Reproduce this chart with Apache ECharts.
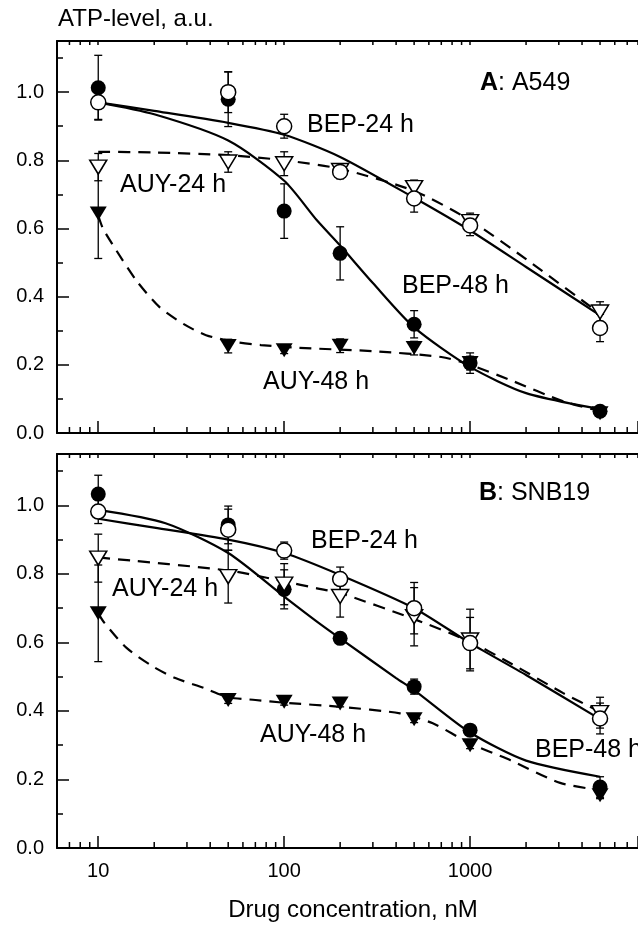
<!DOCTYPE html>
<html>
<head>
<meta charset="utf-8">
<title>ATP-level vs drug concentration</title>
<script src="https://cdn.jsdelivr.net/npm/echarts@6.0.0/dist/echarts.min.js"></script>
<style>
  html, body { margin: 0; padding: 0; background: #fff; }
  #chart { width: 638px; height: 926px; }
</style>
</head>
<body>
<div id="chart"></div>
<script>
// drug concentrations of the measured points, nM
const conc = [10, 50, 100, 200, 500, 1000, 5000];
const xTickLabels = [10, 100, 1000];
const xMinorTicks = [7, 8, 9, 20, 30, 40, 50, 60, 70, 80, 90, 200, 300, 400, 500, 600, 700, 800, 900, 2000, 3000, 4000, 5000, 6000, 7000];
const yTickLabels = [0, 0.2, 0.4, 0.6, 0.8, 1.0];

// panel A: A549
const A_bep24 = [0.97, 1.0, 0.9, 0.766, 0.688, 0.609, 0.308];
const A_bep24_err = [0.05, 0.06, 0.035, 0.02, 0.04, 0.03, 0.04];
const A_bep48 = [1.013, 0.979, 0.651, 0.527, 0.319, 0.205, 0.064];
const A_bep48_err = [0.095, 0.08, 0.08, 0.078, 0.04, 0.03, 0.01];
const A_auy24 = [0.78, 0.795, 0.79, 0.77, 0.72, 0.62, 0.355];
const A_auy24_err = [0.04, 0.03, 0.035, 0.02, 0.022, 0.025, 0.03];
const A_auy48 = [0.644, 0.255, 0.243, 0.256, 0.249, 0.205, 0.058];
const A_auy48_err = [0.132, 0.02, 0.01, 0.02, 0.02, 0.02, 0.01];

// fitted curves, panel A
const A_bep24_fitX = [10, 20, 50, 100, 200, 500, 1000, 2000, 5000];
const A_bep24_fitY = [0.97, 0.945, 0.91, 0.875, 0.81, 0.69, 0.594, 0.487, 0.345];
const A_bep48_fitX = [10, 20, 50, 100, 150, 200, 300, 500, 1000, 2000, 5000];
const A_bep48_fitY = [0.97, 0.935, 0.858, 0.74, 0.624, 0.55, 0.44, 0.31, 0.194, 0.117, 0.07];
const A_auy24_fitX = [10, 20, 50, 100, 200, 500, 1000, 2000, 5000];
const A_auy24_fitY = [0.825, 0.823, 0.815, 0.8, 0.775, 0.71, 0.624, 0.51, 0.35];
const A_auy48_fitX = [10, 10.6, 12.5, 16, 21.3, 28.7, 38, 55, 75, 120, 300, 700, 1000, 1650, 3200, 5000];
const A_auy48_fitY = [0.638, 0.6, 0.536, 0.448, 0.37, 0.32, 0.287, 0.267, 0.258, 0.25, 0.24, 0.223, 0.2, 0.155, 0.092, 0.065];

// panel B: SNB19
const B_bep24 = [0.982, 0.929, 0.868, 0.785, 0.7, 0.598, 0.378];
const B_bep24_err = [0.035, 0.06, 0.025, 0.035, 0.075, 0.075, 0.045];
const B_bep48 = [1.033, 0.943, 0.755, 0.612, 0.471, 0.344, 0.178];
const B_bep48_err = [0.055, 0.055, 0.057, 0.01, 0.022, 0.01, 0.03];
const B_auy24 = [0.846, 0.792, 0.77, 0.734, 0.675, 0.607, 0.395];
const B_auy24_err = [0.07, 0.077, 0.06, 0.06, 0.085, 0.09, 0.045];
const B_auy48 = [0.685, 0.432, 0.427, 0.422, 0.376, 0.3, 0.154];
const B_auy48_err = [0.141, 0.01, 0.01, 0.01, 0.01, 0.01, 0.01];

// fitted curves, panel B
const B_bep24_fitX = [10, 20, 50, 100, 200, 500, 1000, 2000, 5000];
const B_bep24_fitY = [0.961, 0.935, 0.9, 0.861, 0.797, 0.7, 0.598, 0.505, 0.376];
const B_bep48_fitX = [10, 23, 50, 100, 150, 200, 400, 500, 1000, 2000, 5000];
const B_bep48_fitY = [0.987, 0.948, 0.861, 0.734, 0.661, 0.612, 0.496, 0.461, 0.337, 0.255, 0.208];
const B_auy24_fitX = [10, 50, 100, 150, 200, 500, 1000, 1640, 3170, 5000];
const B_auy24_fitY = [0.848, 0.81, 0.778, 0.758, 0.744, 0.668, 0.602, 0.54, 0.452, 0.398];
const B_auy48_fitX = [10, 10.8, 14.2, 19.8, 26, 37, 50, 70, 100, 200, 420, 630, 1000, 1650, 3050, 5000];
const B_auy48_fitY = [0.685, 0.657, 0.584, 0.529, 0.496, 0.467, 0.44, 0.432, 0.424, 0.412, 0.393, 0.364, 0.305, 0.256, 0.19, 0.169];

const X_MIN = 6, X_MAX = 8000, Y_MAX = 1.15;
const FONT = '"Liberation Sans", Arial, Helvetica, sans-serif';

const pairs = (xs, ys) => xs.map((x, i) => [x, ys[i]]);
const withErr = (ys, es) => conc.map((x, i) => [x, ys[i], es[i]]);

const xAx = (gi, pos) => {
  const bottom = pos === 'bottom';
  return {
    type: 'log', logBase: 10, gridIndex: gi, position: pos, min: X_MIN, max: X_MAX,
    axisLine: { onZero: false, lineStyle: { color: '#000', width: 2 } },
    axisTick: { inside: true, length: bottom ? 12 : 4, lineStyle: { color: '#000', width: 1.5 } },
    axisLabel: {
      show: bottom && gi === 1, margin: 13, color: '#000', fontSize: 20, fontFamily: FONT,
      formatter: v => xTickLabels.includes(Math.round(v)) ? String(Math.round(v)) : ''
    },
    splitLine: { show: false },
    name: bottom && gi === 1 ? 'Drug concentration, nM' : '',
    nameLocation: 'middle', nameGap: 50,
    nameTextStyle: { color: '#000', fontSize: 24, fontFamily: FONT, padding: [0, 0, 0, 11] }
  };
};

const yAx = (gi, minor) => ({
  type: 'value', gridIndex: gi, position: 'left', min: 0, max: Y_MAX, interval: minor ? 0.1 : 0.2,
  axisLine: { show: !minor, onZero: false, lineStyle: { color: '#000', width: 2 } },
  axisTick: { inside: true, length: minor ? 6 : 12, lineStyle: { color: '#000', width: 1.5 } },
  axisLabel: {
    show: !minor, margin: 13, color: '#000', fontSize: 20, fontFamily: FONT,
    formatter: v => yTickLabels.includes(+(+v).toFixed(3)) ? (+v).toFixed(1) : ''
  },
  splitLine: { show: false }
});

const seg = (x1, y1, x2, y2, w) => ({
  type: 'line', shape: { x1, y1, x2, y2 }, style: { stroke: '#000', lineWidth: w }
});

function tickSeries(gi) {
  return {
    type: 'custom', xAxisIndex: gi * 2, yAxisIndex: gi * 2, silent: true, z: 1,
    data: xMinorTicks.map(v => [v, 0]),
    renderItem: (params, api) => {
      const v = api.value(0);
      const b = api.coord([v, 0]);
      const t = api.coord([v, Y_MAX]);
      return { type: 'group', children: [seg(b[0], b[1], b[0], b[1] - 6, 1.5), seg(t[0], t[1], t[0], t[1] + 4, 1.5)] };
    }
  };
}

function errSeries(gi, data) {
  return {
    type: 'custom', xAxisIndex: gi * 2, yAxisIndex: gi * 2, silent: true, z: 3,
    data, encode: { x: 0, y: 1 },
    renderItem: (params, api) => {
      const x = api.value(0), y = api.value(1), e = api.value(2);
      const hi = api.coord([x, y + e]), lo = api.coord([x, y - e]);
      return { type: 'group', children: [
        seg(hi[0], hi[1], lo[0], lo[1], 1.3),
        seg(hi[0] - 4, hi[1], hi[0] + 4, hi[1], 1.3),
        seg(lo[0] - 4, lo[1], lo[0] + 4, lo[1], 1.3)
      ] };
    }
  };
}

function curve(gi, data, dashed) {
  return {
    type: 'line', xAxisIndex: gi * 2, yAxisIndex: gi * 2, z: 2, silent: true,
    data, showSymbol: false, symbol: 'none', smooth: 0.25,
    lineStyle: { color: '#000', width: 2.2, type: dashed ? [12, 8] : 'solid' }
  };
}

function marks(gi, data, kind) {
  const tri = kind === 'triOpen' || kind === 'triFill';
  const open = kind === 'circOpen' || kind === 'triOpen';
  return {
    type: 'scatter', xAxisIndex: gi * 2, yAxisIndex: gi * 2, silent: true, z: open ? 5 : 4,
    data,
    symbol: tri ? 'triangle' : 'circle',
    symbolSize: tri ? [17, 14] : 15,
    symbolRotate: tri ? 180 : 0,
    itemStyle: { color: open ? '#fff' : '#000', borderColor: '#000', borderWidth: open ? 1.5 : 0, opacity: 1 }
  };
}

function panel(gi, d) {
  return [
    tickSeries(gi),
    curve(gi, pairs(d.bep24FitX, d.bep24FitY), false),
    curve(gi, pairs(d.bep48FitX, d.bep48FitY), false),
    curve(gi, pairs(d.auy24FitX, d.auy24FitY), true),
    curve(gi, pairs(d.auy48FitX, d.auy48FitY), true),
    errSeries(gi, withErr(d.bep48, d.bep48Err)),
    errSeries(gi, withErr(d.auy48, d.auy48Err)),
    errSeries(gi, withErr(d.bep24, d.bep24Err)),
    errSeries(gi, withErr(d.auy24, d.auy24Err)),
    marks(gi, pairs(conc, d.bep48), 'circFill'),
    marks(gi, pairs(conc, d.auy48), 'triFill'),
    marks(gi, pairs(conc, d.auy24), 'triOpen'),
    marks(gi, pairs(conc, d.bep24), 'circOpen')
  ];
}

const label = (text, x, y, extra) => ({
  type: 'text', silent: true,
  style: Object.assign({ text, x, y, fill: '#000', fontSize: 25, fontFamily: FONT, align: 'left', verticalAlign: 'middle' }, extra || {})
});
const boldRich = { b: { fontWeight: 'bold', fontSize: 25, fontFamily: FONT, fill: '#000' } };

const chart = echarts.init(document.getElementById('chart'));
chart.setOption({
  animation: false,
  backgroundColor: '#fff',
  grid: [
    { left: 57, top: 41, right: 0, height: 392, outerBoundsMode: 'none', containLabel: false },
    { left: 57, top: 454, right: 0, height: 394, outerBoundsMode: 'none', containLabel: false }
  ],
  xAxis: [xAx(0, 'bottom'), xAx(0, 'top'), xAx(1, 'bottom'), xAx(1, 'top')],
  yAxis: [yAx(0, false), yAx(0, true), yAx(1, false), yAx(1, true)],
  series: [
    ...panel(0, {
      bep24: A_bep24, bep24Err: A_bep24_err, bep48: A_bep48, bep48Err: A_bep48_err,
      auy24: A_auy24, auy24Err: A_auy24_err, auy48: A_auy48, auy48Err: A_auy48_err,
      bep24FitX: A_bep24_fitX, bep24FitY: A_bep24_fitY, bep48FitX: A_bep48_fitX, bep48FitY: A_bep48_fitY,
      auy24FitX: A_auy24_fitX, auy24FitY: A_auy24_fitY, auy48FitX: A_auy48_fitX, auy48FitY: A_auy48_fitY
    }),
    ...panel(1, {
      bep24: B_bep24, bep24Err: B_bep24_err, bep48: B_bep48, bep48Err: B_bep48_err,
      auy24: B_auy24, auy24Err: B_auy24_err, auy48: B_auy48, auy48Err: B_auy48_err,
      bep24FitX: B_bep24_fitX, bep24FitY: B_bep24_fitY, bep48FitX: B_bep48_fitX, bep48FitY: B_bep48_fitY,
      auy24FitX: B_auy24_fitX, auy24FitY: B_auy24_fitY, auy48FitX: B_auy48_fitX, auy48FitY: B_auy48_fitY
    })
  ],
  graphic: [
    label('ATP-level, a.u.', 58, 19, { fontSize: 24 }),
    label('{b|A}: A549', 480, 83, { rich: boldRich }),
    label('BEP-24 h', 307, 125),
    label('AUY-24 h', 120, 185),
    label('BEP-48 h', 402, 286),
    label('AUY-48 h', 263, 382),
    label('{b|B}: SNB19', 479, 493, { rich: boldRich }),
    label('BEP-24 h', 311, 541),
    label('AUY-24 h', 112, 589),
    label('AUY-48 h', 260, 735),
    label('BEP-48 h', 535, 750)
  ]
});
</script>
</body>
</html>
